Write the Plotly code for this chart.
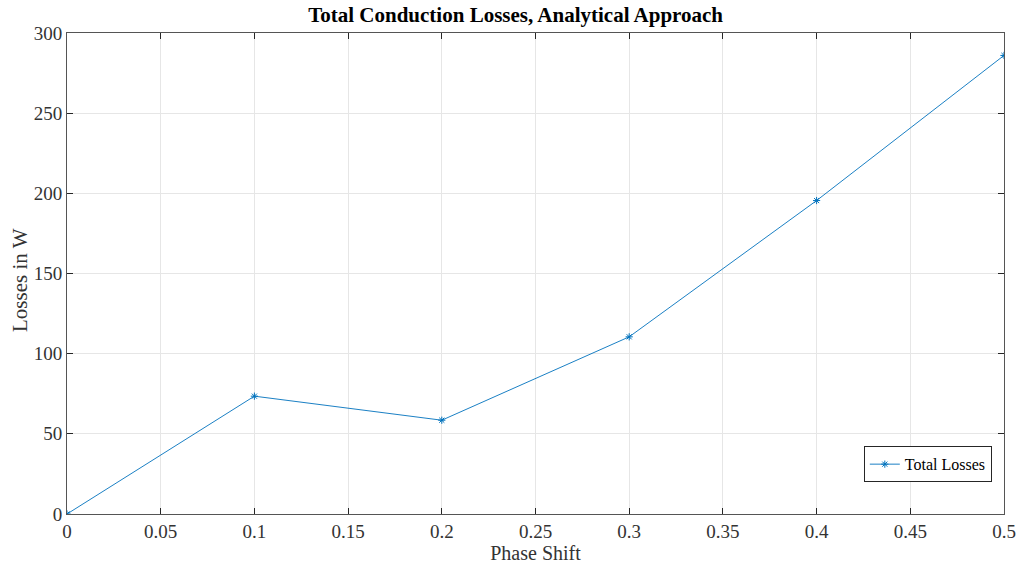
import plotly.graph_objects as go

phase_shift = [0, 0.1, 0.2, 0.3, 0.4, 0.5]
total_losses = [0, 73.5, 58.5, 110.5, 195.5, 286]

x_ticks = [0, 0.05, 0.1, 0.15, 0.2, 0.25, 0.3, 0.35, 0.4, 0.45, 0.5]
x_tick_labels = ["0", "0.05", "0.1", "0.15", "0.2", "0.25", "0.3", "0.35", "0.4", "0.45", "0.5"]
y_ticks = [0, 50, 100, 150, 200, 250, 300]

font_family = "Liberation Serif, Times New Roman, serif"
blue = "#0072BD"
text_gray = "#333333"

fig = go.Figure()
fig.add_trace(go.Scatter(
    x=phase_shift, y=total_losses, mode="lines+markers", name="Total Losses",
    line=dict(color=blue, width=0.9),
    marker=dict(symbol="asterisk-open", size=6, color=blue, line=dict(color=blue, width=1)),
))

axis_common = dict(
    showline=True, linecolor="#555555", linewidth=1, mirror="allticks",
    ticks="inside", ticklen=6, tickcolor="#262626",
    showgrid=True, gridcolor="#e6e6e6", gridwidth=1, zeroline=False,
    tickfont=dict(family=font_family, size=19, color=text_gray),
    automargin=False,
)

fig.update_layout(
    width=1017, height=567,
    margin=dict(l=67, r=13, t=33, b=53),
    paper_bgcolor="white", plot_bgcolor="white",
    title=dict(text="<b>Total Conduction Losses, Analytical Approach</b>",
               x=0.507, xanchor="center", xref="container", y=1, yanchor="top", pad=dict(t=7),
               font=dict(family=font_family, size=21, color="black")),
    xaxis=dict(range=[0, 0.5], tickvals=x_ticks, ticktext=x_tick_labels,
               title=dict(text="Phase Shift", font=dict(family=font_family, size=20, color=text_gray), standoff=2),
               **axis_common),
    yaxis=dict(range=[0, 300], tickvals=y_ticks, **axis_common),
    annotations=[dict(text="Losses in W", textangle=-90, xref="paper", yref="paper",
                      x=-0.0502, y=0.4865, xanchor="center", yanchor="middle", showarrow=False,
                      font=dict(family=font_family, size=21, color=text_gray))],
    showlegend=True,
    legend=dict(x=0.987, y=0.066, xanchor="right", yanchor="bottom",
                bgcolor="white", bordercolor="#262626", borderwidth=1,
                font=dict(family=font_family, size=16, color="black"),
                itemwidth=30, tracegroupgap=0),
)

fig.write_html("out.html")
